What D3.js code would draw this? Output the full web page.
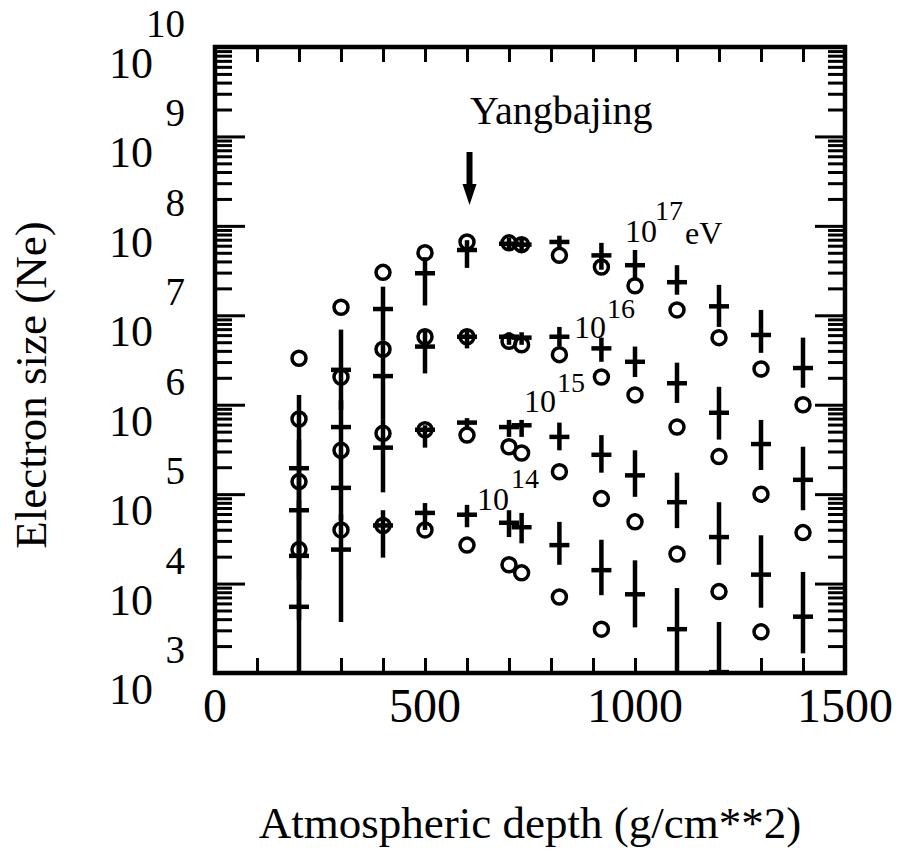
<!DOCTYPE html>
<html>
<head>
<meta charset="utf-8">
<script src="https://cdn.jsdelivr.net/npm/d3@7/dist/d3.min.js"></script>
<style>
  body { margin: 0; background: #fff; }
  text { font-family: "Liberation Serif", "DejaVu Serif", serif; fill: #000; }
</style>
</head>
<body>
<svg id="chart" width="901" height="859"></svg>
<script>
// atmospheric depth (g/cm^2) of every column
depths = [200, 300, 400, 500, 600, 700, 730, 820, 920, 1000, 1100, 1200, 1300, 1400]

// log10(Ne), null = not drawn
circle17 = [6.52, 7.09, 7.48, 7.70, 7.82, 7.81, 7.79, 7.67, 7.54, 7.33, 7.06, 6.75, 6.40, 6.00]
cross17 = [5.29, 6.39, 7.07, 7.47, 7.73, 7.80, 7.79, 7.82, 7.67, 7.56, 7.37, 7.10, 6.78, 6.41]
errHi17 = [6.11, 6.84, 7.32, 7.65, 7.84, 7.87, 7.87, 7.89, 7.81, 7.73, 7.56, 7.34, 7.06, 6.75]
errLo17 = [4.49, 5.94, 6.72, 7.11, 7.53, 7.73, 7.71, 7.73, 7.51, 7.39, 7.23, 6.87, 6.58, 6.19]

circle16 = [5.84, 6.31, 6.62, 6.76, 6.76, 6.71, 6.67, 6.56, 6.31, 6.11, 5.75, 5.42, 5.00, 4.57]
cross16 = [4.82, 5.75, 6.32, 6.65, 6.76, 6.76, 6.75, 6.76, 6.63, 6.48, 6.24, 5.91, 5.56, 5.16]
errHi16 = [5.61, 6.05, 6.72, 6.84, 6.84, 6.81, 6.81, 6.87, 6.75, 6.65, 6.47, 6.20, 5.83, 5.53]
errLo16 = [4.04, 5.38, 5.83, 6.35, 6.63, 6.67, 6.67, 6.65, 6.48, 6.31, 6.02, 5.61, 5.27, 4.82]

circle15 = [5.14, 5.49, 5.68, 5.72, 5.66, 5.53, 5.46, 5.25, 4.95, 4.69, 4.33, 3.91, 3.46, null]
cross15 = [4.31, 5.07, 5.52, 5.72, 5.80, 5.75, 5.77, 5.64, 5.44, 5.21, 4.91, 4.52, 4.10, 3.63]
errHi15 = [4.93, 5.44, 5.83, 5.77, 5.85, 5.83, 5.83, 5.80, 5.66, 5.49, 5.24, 4.91, 4.54, 4.13]
errLo15 = [3.59, 4.71, 5.02, 5.52, 5.72, 5.64, 5.64, 5.49, 5.24, 4.97, 4.62, 4.21, 3.73, 3.22]

circle14 = [4.38, 4.60, 4.65, 4.60, 4.43, 4.21, 4.12, 3.85, 3.49, null, null, null, null, null]
cross14 = [3.74, 4.38, 4.65, 4.79, 4.77, 4.68, 4.63, 4.43, 4.15, 3.88, 3.49, 3.01, null, null]
errHi14 = [4.49, 4.77, 4.82, 4.90, 4.88, 4.82, 4.79, 4.69, 4.49, 4.26, 3.95, 3.57, null, null]
errLo14 = [2.90, 3.57, 4.29, 4.60, 4.63, 4.52, 4.45, 4.21, 3.87, 3.51, 2.90, 2.90, null, null]

xTickLabels = [0, 500, 1000, 1500]
yExponents = [3, 4, 5, 6, 7, 8, 9, 10]

svgWidth = 901
svgHeight = 859

var svg = d3.select('#chart')

xScale = d3.scaleLinear()
	.domain([0, 1500])
	.range([215, 845])
yScale = d3.scaleLog()
	.domain([1e3, 1e10])
	.range([673, 47])

function drawAxes() {
	var g = svg.append('g').attr('class', 'axes')
	var xMinor = xScale.ticks(15)

	g.append('g')
		.attr('transform', 'translate(0,673)')
		.call(d3.axisBottom(xScale).tickValues(xMinor).tickSize(-15).tickFormat(''))
	g.append('g')
		.attr('transform', 'translate(0,47)')
		.call(d3.axisTop(xScale).tickValues(xMinor).tickSize(-15).tickFormat(''))

	var yTicks = yScale.ticks()
	g.append('g')
		.attr('class', 'yleft')
		.attr('transform', 'translate(215,0)')
		.call(d3.axisLeft(yScale).tickValues(yTicks).tickSize(-17).tickFormat(''))
	g.append('g')
		.attr('class', 'yright')
		.attr('transform', 'translate(845,0)')
		.call(d3.axisRight(yScale).tickValues(yTicks).tickSize(-17).tickFormat(''))

	// decades get the long tick
	g.select('.yleft').selectAll('.tick line')
		.attr('x2', function (d) { return isDecade(d) ? 30 : 17 })
	g.select('.yright').selectAll('.tick line')
		.attr('x2', function (d) { return isDecade(d) ? -30 : -17 })

	g.selectAll('.domain').remove()
	g.selectAll('.tick line')
		.attr('stroke', '#000')
		.attr('stroke-width', 3)

	// frame
	g.append('rect')
		.attr('x', 215)
		.attr('y', 47)
		.attr('width', 630)
		.attr('height', 626)
		.attr('fill', 'none')
		.attr('stroke', '#000')
		.attr('stroke-width', 4.5)

	// x labels
	g.selectAll('.xlab')
		.data(xTickLabels)
		.enter()
		.append('text')
		.attr('class', 'xlab')
		.attr('x', function (d) { return xScale(d) })
		.attr('y', 722)
		.attr('text-anchor', 'middle')
		.attr('font-size', 48)
		.text(function (d) { return d })

	// y labels: base "10" below the tick, exponent above
	var lab = g.selectAll('.ylab')
		.data(yExponents)
		.enter()
		.append('g')
		.attr('class', 'ylab')
	lab.append('text')
		.attr('x', 153)
		.attr('y', function (d) { return yScale(Math.pow(10, d)) + 31 })
		.attr('text-anchor', 'end')
		.attr('font-size', 44)
		.text('10')
	lab.append('text')
		.attr('x', 185)
		.attr('y', function (d) { return yScale(Math.pow(10, d)) - 10 })
		.attr('text-anchor', 'end')
		.attr('font-size', 39)
		.text(function (d) { return d })

	svg.append('text')
		.attr('transform', 'translate(46,385) rotate(-90)')
		.attr('text-anchor', 'middle')
		.attr('font-size', 45)
		.text('Electron size (Ne)')
	svg.append('text')
		.attr('x', 530)
		.attr('y', 838)
		.attr('text-anchor', 'middle')
		.attr('font-size', 45)
		.text('Atmospheric depth (g/cm**2)')
}

function isDecade(d) {
	var e = Math.log10(d)
	return Math.abs(e - Math.round(e)) < 1e-9
}

function drawSeries(circles, crosses, hi, lo) {
	var rows = depths.map(function (d, i) {
		return { depth: d, circle: circles[i], cross: crosses[i], hi: hi[i], lo: lo[i] }
	})
	var g = svg.append('g').attr('clip-path', 'url(#plotClip)')

	var withCross = rows.filter(function (r) { return r.cross != null })
	g.selectAll('.err')
		.data(withCross)
		.enter()
		.append('line')
		.attr('x1', function (r) { return xScale(r.depth) })
		.attr('x2', function (r) { return xScale(r.depth) })
		.attr('y1', function (r) { return yScale(Math.pow(10, r.hi)) })
		.attr('y2', function (r) { return yScale(Math.pow(10, r.lo)) })
		.attr('stroke', '#000')
		.attr('stroke-width', 4.5)
	g.selectAll('.bar')
		.data(withCross)
		.enter()
		.append('line')
		.attr('x1', function (r) { return xScale(r.depth) - 10 })
		.attr('x2', function (r) { return xScale(r.depth) + 10 })
		.attr('y1', function (r) { return yScale(Math.pow(10, r.cross)) })
		.attr('y2', function (r) { return yScale(Math.pow(10, r.cross)) })
		.attr('stroke', '#000')
		.attr('stroke-width', 4.5)

	g.selectAll('circle')
		.data(rows.filter(function (r) { return r.circle != null }))
		.enter()
		.append('circle')
		.attr('cx', function (r) { return xScale(r.depth) })
		.attr('cy', function (r) { return yScale(Math.pow(10, r.circle)) })
		.attr('r', 7)
		.attr('fill', 'none')
		.attr('stroke', '#000')
		.attr('stroke-width', 3.5)
}

function drawNotes() {
	// energy labels
	var energies = [
		{ base: [625, 242], exp: [655, 220], e: '17' },
		{ base: [574, 338], exp: [607, 318], e: '16' },
		{ base: [524, 412], exp: [557, 392], e: '15' },
		{ base: [477, 510], exp: [511, 488], e: '14' }
	]
	energies.forEach(function (l) {
		svg.append('text').attr('x', l.base[0]).attr('y', l.base[1]).attr('font-size', 32).text('10')
		svg.append('text').attr('x', l.exp[0]).attr('y', l.exp[1]).attr('font-size', 28).text(l.e)
	})
	svg.append('text').attr('x', 685).attr('y', 244).attr('font-size', 32).text('eV')

	svg.append('text')
		.attr('x', 470)
		.attr('y', 124)
		.attr('font-size', 40)
		.text('Yangbajing')

	// arrow at the Yangbajing depth
	var ax = xScale(606)
	svg.append('line')
		.attr('x1', ax).attr('x2', ax)
		.attr('y1', 152).attr('y2', 186)
		.attr('stroke', '#000')
		.attr('stroke-width', 6)
	svg.append('path')
		.attr('d', 'M' + (ax - 7) + ',184 L' + (ax + 7) + ',184 L' + ax + ',205 Z')
		.attr('fill', '#000')
}

svg.append('defs').append('clipPath')
	.attr('id', 'plotClip')
	.append('rect')
	.attr('x', 215).attr('y', 47).attr('width', 630).attr('height', 626)

drawSeries(circle17, cross17, errHi17, errLo17)
drawSeries(circle16, cross16, errHi16, errLo16)
drawSeries(circle15, cross15, errHi15, errLo15)
drawSeries(circle14, cross14, errHi14, errLo14)
drawAxes()
drawNotes()
</script>
</body>
</html>
